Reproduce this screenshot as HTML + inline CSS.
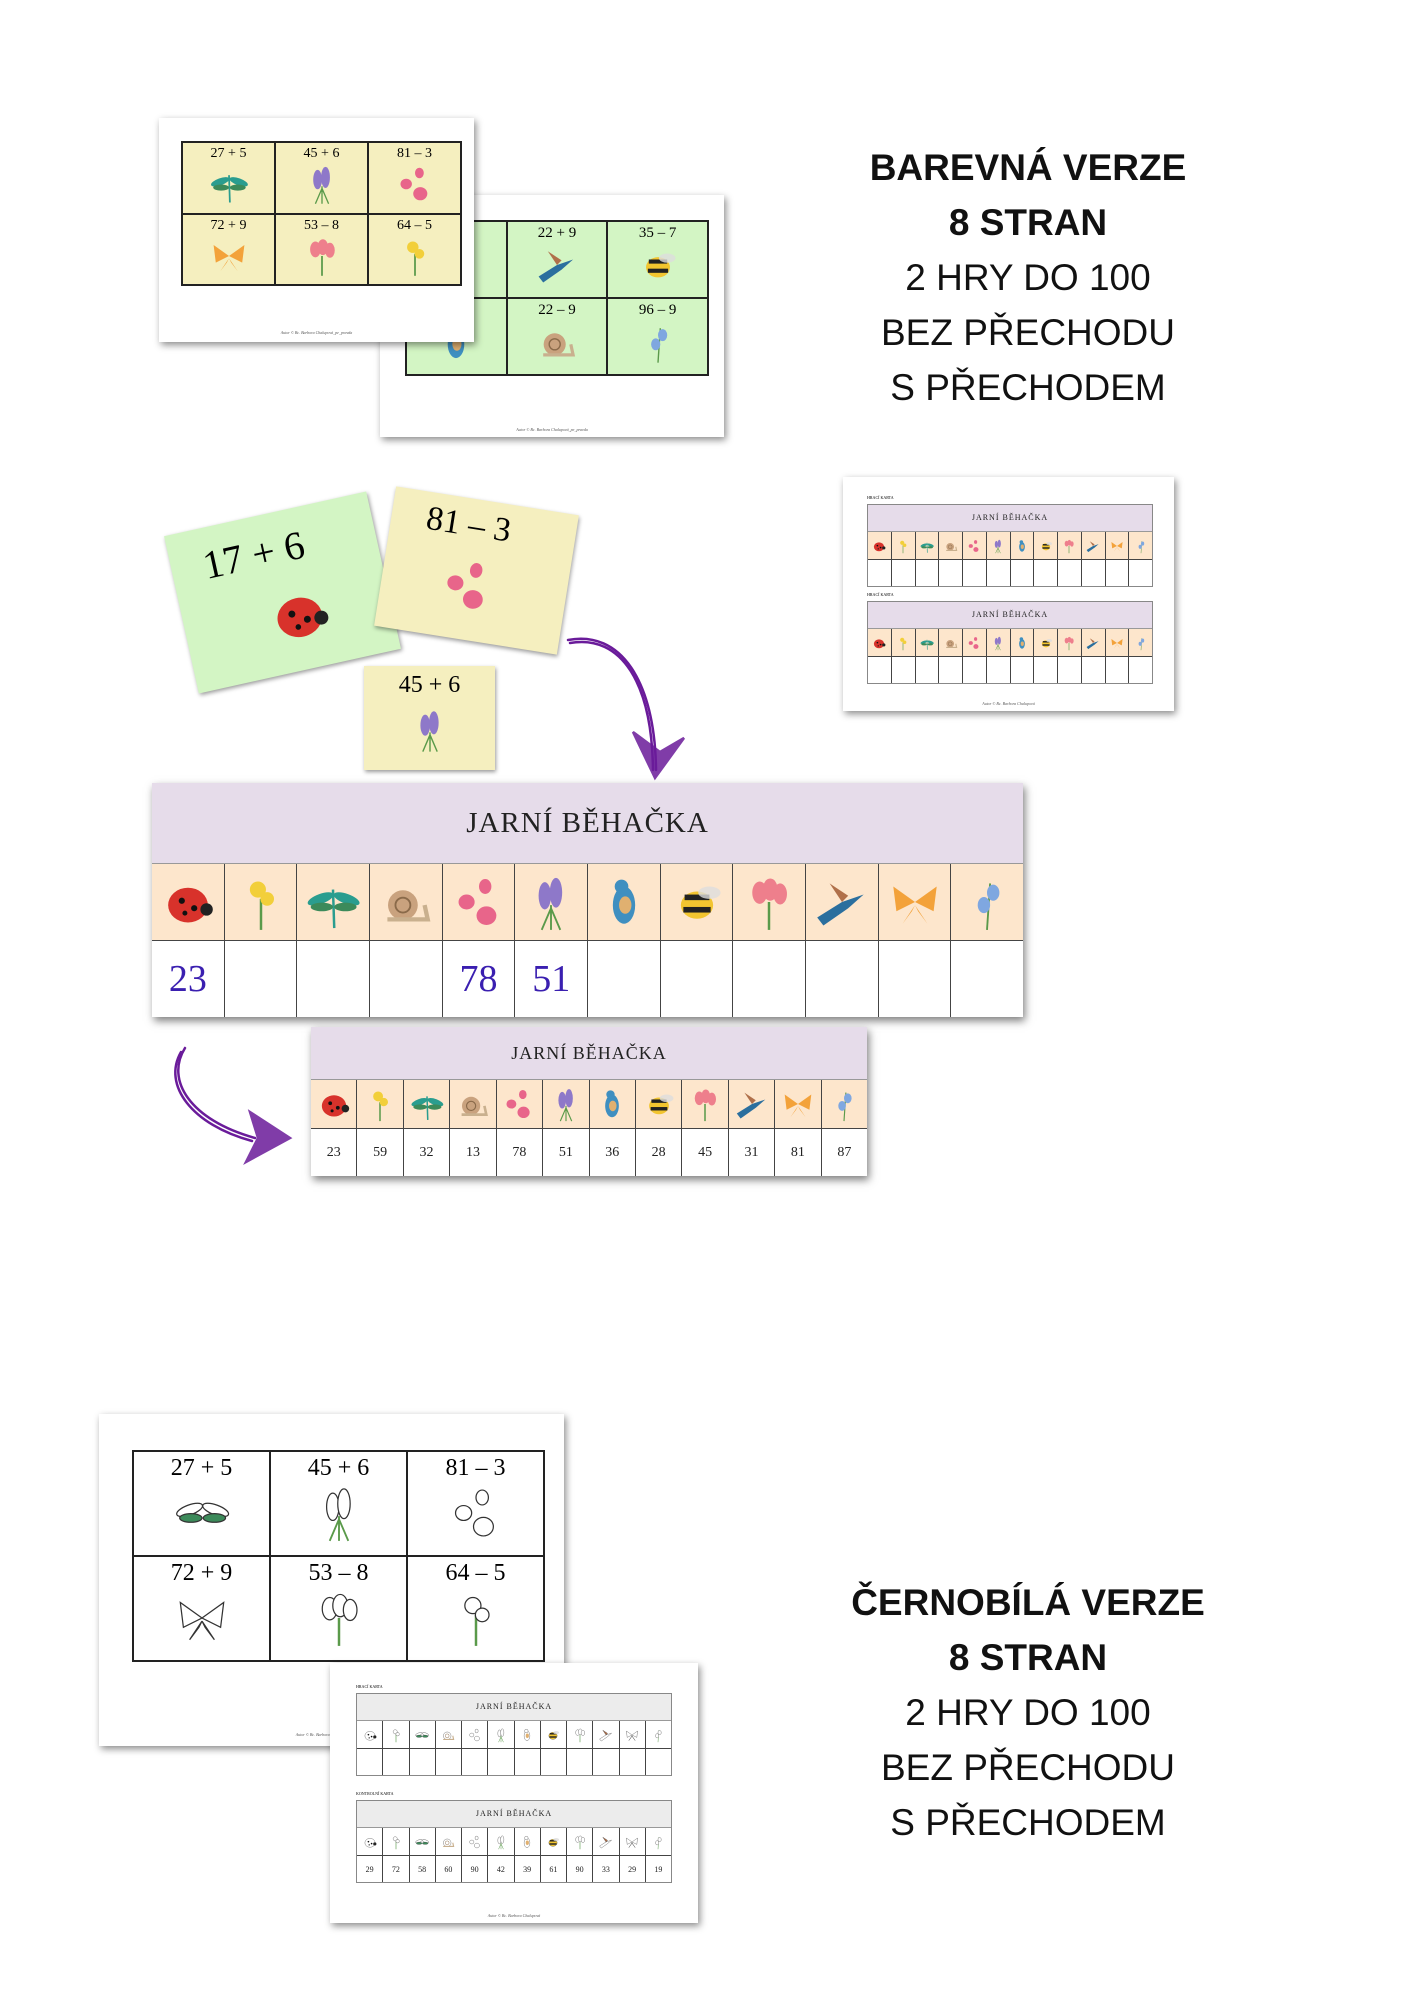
<!DOCTYPE html>
<html><head><meta charset="utf-8">
<style>
body{margin:0;width:1414px;height:2000px;background:#fff;position:relative;overflow:hidden;font-family:"Liberation Serif",serif;}
.abs{position:absolute;}
.page{position:absolute;background:#fff;box-shadow:2px 3px 7px rgba(0,0,0,.45);}
.grid{position:absolute;display:grid;border:1px solid #222;}
.grid>div{border:1px solid #222;text-align:center;position:relative;overflow:hidden;}
.title{position:absolute;left:828px;width:400px;text-align:center;font-family:"Liberation Sans",sans-serif;font-size:37px;color:#111;line-height:55px;}
.title b{font-weight:bold;}
.strip{position:absolute;box-shadow:2px 4px 8px rgba(0,0,0,.5);background:#fff;}
.hd{background:#e6dcea;text-align:center;color:#222;letter-spacing:1px;}
.row{display:flex;}
.row>div{flex:1;border-right:1px solid #444;display:flex;align-items:center;justify-content:center;}
.row>div:last-child{border-right:none;}
.ic{background:#fde6cc;border-top:1px solid #999;border-bottom:1.5px solid #444;}
.foot{position:absolute;font-size:4px;color:#555;text-align:center;width:100%;font-style:italic;}
.card{position:absolute;box-shadow:1px 2px 4px rgba(0,0,0,.4);text-align:center;}
</style></head><body>

<div class="title" style="top:140px"><b>BAREVNÁ VERZE</b><br><b>8 STRAN</b><br>2 HRY DO 100<br>BEZ PŘECHODU<br>S PŘECHODEM</div>
<div class="title" style="top:1575px"><b>ČERNOBÍLÁ VERZE</b><br><b>8 STRAN</b><br>2 HRY DO 100<br>BEZ PŘECHODU<br>S PŘECHODEM</div>

<div class="page" style="left:380px;top:195px;width:344px;height:242px">
 <div class="grid" id="gB" style="left:25px;top:25px;width:302px;height:154px;background:#d3f5c4;grid-template-columns:1fr 1fr 1fr;grid-template-rows:1fr 1fr"></div>
 <div class="foot" style="top:232px">Autor © Bc. Barbora Chalupová_pe_pravda</div>
</div>
<div class="page" style="left:159px;top:118px;width:315px;height:224px">
 <div class="grid" id="gA" style="left:22px;top:23px;width:279px;height:143px;background:#f5efbf;grid-template-columns:1fr 1fr 1fr;grid-template-rows:1fr 1fr"></div>
 <div class="foot" style="top:212px">Autor © Bc. Barbora Chalupová_pe_pravda</div>
</div>

<div class="page" style="left:843px;top:477px;width:331px;height:234px" id="pC"></div>

<div class="card" style="left:179px;top:512px;width:207px;height:161px;background:#d3f5c4;transform:rotate(-12.5deg)">
 <div style="font-size:40px;margin-top:14px;margin-left:-40px">17 + 6</div>
 <div id="lb" style="position:absolute;left:80px;top:70px"></div>
</div>
<div class="card" style="left:384px;top:500px;width:185px;height:141px;background:#f5efbf;transform:rotate(9deg)">
 <div style="font-size:34px;margin-top:8px;margin-left:-30px">81 – 3</div>
 <div id="bf" style="position:absolute;left:55px;top:55px"></div>
</div>
<div class="card" style="left:364px;top:666px;width:131px;height:104px;background:#f5efbf">
 <div style="font-size:24px;margin-top:6px">45 + 6</div>
 <div id="cr" style="position:absolute;left:42px;top:40px"></div>
</div>

<svg class="abs" style="left:0;top:0" width="1414" height="2000">
 <g fill="none" stroke="#6a1b9a" stroke-width="2.5" stroke-linecap="round">
  <path d="M568 640 C620 630 655 680 656 770"/>
  <path d="M570 643 C622 634 652 684 653 770"/>
  <path d="M633 732 L655 778 L684 738 L660 752 Z" fill="#6a1b9a" opacity=".85"/>
  <path d="M185 1048 C165 1080 190 1120 255 1138"/>
  <path d="M181 1052 C162 1085 192 1125 252 1141"/>
  <path d="M250 1112 L290 1138 L246 1162 L258 1138 Z" fill="#6a1b9a" opacity=".85"/>
 </g>
</svg>

<div class="strip" id="big" style="left:152px;top:783px;width:871px;height:234px"></div>
<div class="strip" id="small" style="left:311px;top:1027px;width:556px;height:149px"></div>

<div class="page" style="left:99px;top:1414px;width:465px;height:332px">
 <div class="grid" id="gD" style="left:33px;top:36px;width:411px;height:210px;grid-template-columns:1fr 1fr 1fr;grid-template-rows:1fr 1fr"></div>
 <div class="foot" style="top:318px">Autor © Bc. Barbora Chalupová_pe_pravda</div>
</div>
<div class="page" style="left:330px;top:1663px;width:368px;height:260px" id="pE"></div>

<script>
function icon(i,s,bw){
 var c=bw?['#fff','#fff','#fff','#fff','#fff','#fff','#fff','#fff','#fff','#fff','#fff','#fff']:
 ['#d8322b','#f2cf3a','#2a9d8f','#c9a27e','#e8658a','#8e78c9','#3f8fc0','#222','#ee7f8c','#2b6f9e','#f3a23a','#7fa7e0'];
 var st=bw?'stroke="#333" stroke-width="2"':'stroke="none"';
 var g='#5a9a4a';var sh='';
 switch(i){
 case 0: sh='<ellipse cx="50" cy="55" rx="32" ry="28" fill="'+c[0]+'" '+st+'/><circle cx="40" cy="48" r="5" fill="#111"/><circle cx="60" cy="60" r="5" fill="#111"/><circle cx="45" cy="68" r="4" fill="#111"/><circle cx="80" cy="62" r="10" fill="#222"/>';break;
 case 1: sh='<path d="M50 45 L50 95" stroke="'+g+'" stroke-width="4"/><circle cx="45" cy="30" r="13" fill="'+c[1]+'" '+st+'/><circle cx="60" cy="45" r="11" fill="'+c[1]+'" '+st+'/>';break;
 case 2: sh='<path d="M50 30 L52 92" stroke="'+c[2]+'" stroke-width="4"/><ellipse cx="30" cy="45" rx="22" ry="8" fill="'+c[2]+'" '+st+' transform="rotate(-20 30 45)"/><ellipse cx="72" cy="45" rx="22" ry="8" fill="'+c[2]+'" '+st+' transform="rotate(20 72 45)"/><ellipse cx="32" cy="58" rx="18" ry="7" fill="#3c8a5a" '+st+'/><ellipse cx="70" cy="58" rx="18" ry="7" fill="#3c8a5a" '+st+'/>';break;
 case 3: sh='<circle cx="45" cy="55" r="24" fill="'+c[3]+'" '+st+'/><circle cx="45" cy="55" r="12" fill="none" stroke="#8a6a4a" stroke-width="3"/><path d="M20 78 L85 78 L80 55" stroke="#c9b08e" stroke-width="7" fill="none"/>';break;
 case 4: sh='<ellipse cx="60" cy="25" rx="10" ry="12" fill="'+c[4]+'" '+st+'/><ellipse cx="30" cy="50" rx="13" ry="12" fill="'+c[4]+'" '+st+'/><ellipse cx="62" cy="72" rx="16" ry="15" fill="'+c[4]+'" '+st+'/>';break;
 case 5: sh='<path d="M50 55 L50 95 M35 95 L50 60 M65 95 L50 60" stroke="'+g+'" stroke-width="3"/><ellipse cx="40" cy="40" rx="10" ry="22" fill="'+c[5]+'" '+st+'/><ellipse cx="58" cy="35" rx="10" ry="24" fill="'+c[5]+'" '+st+'/>';break;
 case 6: sh='<ellipse cx="50" cy="55" rx="18" ry="30" fill="'+c[6]+'" '+st+'/><circle cx="46" cy="25" r="11" fill="'+c[6]+'" '+st+'/><ellipse cx="52" cy="55" rx="10" ry="14" fill="#e0b070"/>';break;
 case 7: sh='<ellipse cx="50" cy="55" rx="26" ry="22" fill="#f2c530" '+st+'/><rect x="30" y="38" width="40" height="9" fill="#222"/><rect x="28" y="58" width="44" height="9" fill="#222"/><ellipse cx="70" cy="35" rx="18" ry="10" fill="#ddd" opacity=".8"/>';break;
 case 8: sh='<path d="M50 50 L50 95" stroke="'+g+'" stroke-width="4"/><ellipse cx="35" cy="35" rx="12" ry="18" fill="'+c[8]+'" '+st+'/><ellipse cx="52" cy="30" rx="12" ry="18" fill="'+c[8]+'" '+st+'/><ellipse cx="68" cy="37" rx="11" ry="17" fill="'+c[8]+'" '+st+'/>';break;
 case 9: sh='<path d="M10 75 L50 50 L85 38 L60 60 L20 88 Z" fill="'+c[9]+'" '+st+'/><path d="M50 50 L30 20 L60 40 Z" fill="#b0704a" '+st+'/>';break;
 case 10: sh='<path d="M50 50 L15 25 L20 65 Z M50 50 L85 25 L80 65 Z M50 55 L30 85 L45 65 Z M50 55 L70 85 L55 65 Z" fill="'+c[10]+'" '+st+'/>';break;
 case 11: sh='<path d="M55 20 L50 95" stroke="'+g+'" stroke-width="3"/><ellipse cx="60" cy="35" rx="10" ry="13" fill="'+c[11]+'" '+st+'/><ellipse cx="45" cy="55" rx="10" ry="13" fill="'+c[11]+'" '+st+'/>';break;
 }
 return '<svg width="'+s+'" height="'+s+'" viewBox="0 0 100 100">'+sh+'</svg>';
}
function cards(id,items,fs,is,bw){
 var h='';items.forEach(function(t){h+='<div><div style="font-size:'+fs+'px;margin-top:3px">'+t[0]+'</div><div>'+icon(t[1],is,bw)+'</div></div>';});
 document.getElementById(id).innerHTML=h;
}
cards('gA',[['27 + 5',2],['45 + 6',5],['81 – 3',4],['72 + 9',10],['53 – 8',8],['64 – 5',1]],14,44);
cards('gB',[['<span style="margin-left:-90px">6</span>',6],['22 + 9',9],['35 – 7',7],['<span style="margin-left:-90px">8</span>',6],['22 – 9',3],['96 – 9',11]],15,46);
cards('gD',[['27 + 5',2],['45 + 6',5],['81 – 3',4],['72 + 9',10],['53 – 8',8],['64 – 5',1]],24,62,true);
document.getElementById('lb').innerHTML=icon(0,70);
document.getElementById('bf').innerHTML=icon(4,62);
document.getElementById('cr').innerHTML=icon(5,48);

function strip(hh,fs,ih,is,nums,nh,nfs,col,bw,bg){
 var h='<div class="hd" style="height:'+hh+'px;line-height:'+hh+'px;font-size:'+fs+'px;'+(bg?'background:'+bg:'')+'">JARNÍ BĚHAČKA</div><div class="row ic" style="height:'+ih+'px;'+(bw?'background:#fff':'')+'">';
 for(var i=0;i<12;i++)h+='<div>'+icon(i,is,bw)+'</div>';
 h+='</div><div class="row" style="height:'+nh+'px;font-size:'+nfs+'px;color:'+col+'">';
 for(var i=0;i<12;i++)h+='<div>'+(nums[i]||'')+'</div>';
 return h+'</div>';
}
document.getElementById('big').innerHTML=strip(80,29,76,62,['23','','','','78','51'],76,38,'#3a1fb0');
document.getElementById('small').innerHTML=strip(52,18,48,38,['23','59','32','13','78','51','36','28','45','31','81','87'],47,14,'#222');
function mini(x,y,w,nums,bw,bg,lbl){
 return '<div class="abs" style="left:'+x+'px;top:'+(y-9)+'px;font-size:4px">'+lbl+'</div><div class="abs" style="left:'+x+'px;top:'+y+'px;width:'+w+'px;border:1px solid #888">'+strip(26,8,27,16,nums,26,8,'#222',bw,bg)+'</div>';
}
document.getElementById('pC').innerHTML=mini(24,27,284,[],false,'','HRACÍ KARTA')+mini(24,124,284,[],false,'','HRACÍ KARTA')+'<div class="foot" style="top:224px">Autor © Bc. Barbora Chalupová</div>';
document.getElementById('pE').innerHTML=mini(26,30,314,[],true,'#ececec','HRACÍ KARTA')+mini(26,137,314,['29','72','58','60','90','42','39','61','90','33','29','19'],true,'#ececec','KONTROLNÍ KARTA')+'<div class="foot" style="top:250px">Autor © Bc. Barbora Chalupová</div>';
</script>
</body></html>
